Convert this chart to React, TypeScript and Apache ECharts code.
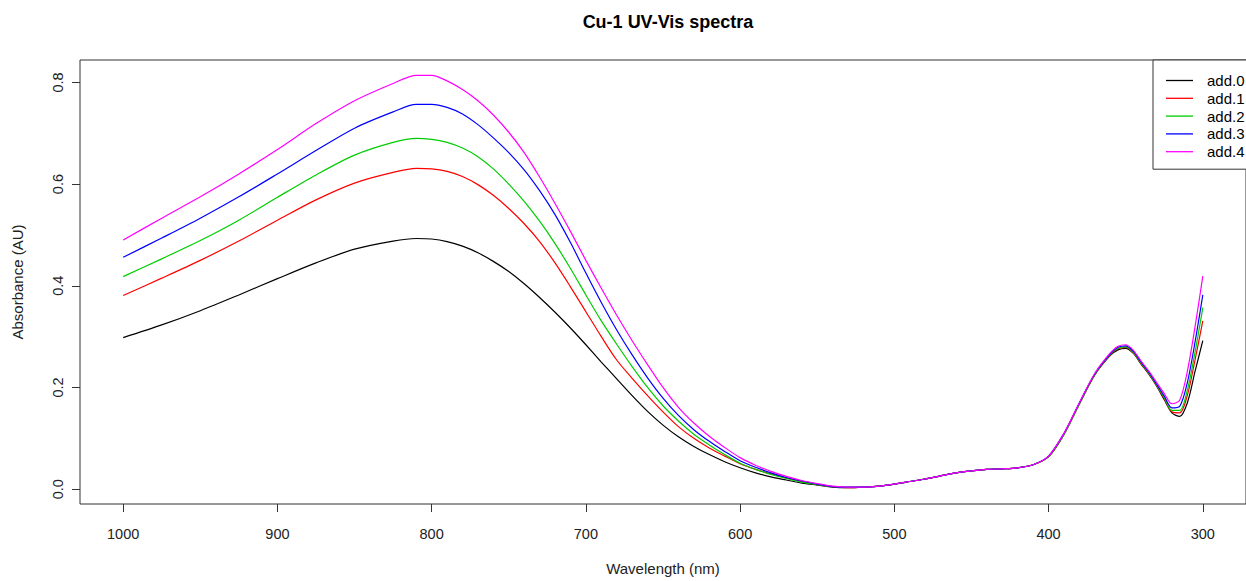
import React, { useEffect, useRef } from "react";
import * as echarts from "echarts";

const wavelengths = [
  1000, 975, 950, 925, 900, 875, 850, 825,
  810, 800, 790, 780, 770, 760, 750, 740, 730, 720, 710, 700,
  690, 680, 670, 660, 650, 640, 630, 620, 610, 600, 590, 580, 570, 560, 550, 540, 530,
  520, 510, 500, 490, 480, 470, 460, 450, 440, 430, 420, 410, 400, 390, 380, 370, 360,
  355, 350, 345, 340, 335, 330, 325, 320, 315, 310, 305, 300,
];

const add0 = [
  0.298, 0.323, 0.351, 0.382, 0.414, 0.445, 0.472, 0.488,
  0.493, 0.492, 0.487, 0.478, 0.465, 0.448, 0.428, 0.404, 0.377, 0.348, 0.317, 0.284,
  0.250, 0.217, 0.184, 0.153, 0.126, 0.103, 0.084, 0.068, 0.054, 0.042, 0.032, 0.024, 0.018, 0.012, 0.008, 0.004, 0.003,
  0.004, 0.006, 0.010, 0.015, 0.020, 0.026, 0.032, 0.036, 0.039, 0.040, 0.042, 0.048, 0.064, 0.108, 0.168, 0.225, 0.263,
  0.274, 0.277, 0.267, 0.246, 0.226, 0.203, 0.176, 0.150, 0.143, 0.170, 0.232, 0.292,
];

const add1 = [
  0.381, 0.415, 0.450, 0.488, 0.529, 0.569, 0.602, 0.623,
  0.631, 0.630, 0.625, 0.615, 0.599, 0.578, 0.552, 0.522, 0.487, 0.445, 0.398, 0.349,
  0.300, 0.254, 0.218, 0.184, 0.152, 0.123, 0.100, 0.081, 0.065, 0.050, 0.039, 0.030, 0.022, 0.015, 0.009, 0.005, 0.003,
  0.004, 0.006, 0.010, 0.015, 0.020, 0.026, 0.032, 0.036, 0.039, 0.040, 0.042, 0.048, 0.064, 0.108, 0.168, 0.225, 0.264,
  0.276, 0.279, 0.268, 0.247, 0.227, 0.204, 0.178, 0.152, 0.150, 0.185, 0.255, 0.331,
];

const add2 = [
  0.418, 0.453, 0.489, 0.529, 0.574, 0.618, 0.657, 0.682,
  0.690, 0.688, 0.682, 0.671, 0.654, 0.630, 0.600, 0.566, 0.527, 0.483, 0.434, 0.382,
  0.331, 0.285, 0.241, 0.200, 0.164, 0.134, 0.108, 0.087, 0.068, 0.051, 0.039, 0.029, 0.021, 0.014, 0.009, 0.005, 0.004,
  0.004, 0.006, 0.010, 0.015, 0.020, 0.026, 0.032, 0.036, 0.039, 0.040, 0.042, 0.048, 0.064, 0.108, 0.168, 0.226, 0.265,
  0.277, 0.280, 0.269, 0.248, 0.228, 0.205, 0.180, 0.155, 0.155, 0.195, 0.270, 0.357,
];

const add3 = [
  0.456, 0.494, 0.533, 0.575, 0.620, 0.666, 0.710, 0.742,
  0.757, 0.757, 0.751, 0.738, 0.717, 0.691, 0.662, 0.628, 0.587, 0.540, 0.485, 0.425,
  0.367, 0.313, 0.264, 0.219, 0.179, 0.145, 0.117, 0.094, 0.074, 0.056, 0.043, 0.032, 0.023, 0.016, 0.010, 0.005, 0.004,
  0.004, 0.006, 0.010, 0.015, 0.020, 0.026, 0.032, 0.036, 0.039, 0.040, 0.042, 0.048, 0.065, 0.110, 0.170, 0.227, 0.266,
  0.279, 0.282, 0.271, 0.250, 0.230, 0.207, 0.183, 0.160, 0.163, 0.210, 0.290, 0.382,
];

const add4 = [
  0.490, 0.533, 0.575, 0.620, 0.668, 0.719, 0.764, 0.798,
  0.814, 0.814, 0.803, 0.786, 0.764, 0.736, 0.702, 0.662, 0.614, 0.562, 0.507, 0.450,
  0.395, 0.342, 0.292, 0.245, 0.200, 0.161, 0.130, 0.104, 0.082, 0.062, 0.047, 0.035, 0.025, 0.017, 0.011, 0.006, 0.004,
  0.004, 0.006, 0.010, 0.015, 0.020, 0.026, 0.032, 0.036, 0.039, 0.040, 0.042, 0.048, 0.065, 0.110, 0.170, 0.228, 0.268,
  0.281, 0.284, 0.273, 0.252, 0.232, 0.210, 0.188, 0.168, 0.175, 0.232, 0.320, 0.419,
];

const seriesNames = ["add.0", "add.1", "add.2", "add.3", "add.4"];
const seriesValues = [add0, add1, add2, add3, add4];
const seriesColors = ["#000000", "#FF0000", "#00CD00", "#0000FF", "#FF00FF"];

const xTicks = [1000, 900, 800, 700, 600, 500, 400, 300];
const yTicks = [0, 0.2, 0.4, 0.6, 0.8];

const FONT = "'Liberation Sans', Arial, sans-serif";
const AXIS_COLOR = "#333333";

export default function App() {
  const ref = useRef<HTMLDivElement>(null);

  useEffect(() => {
    if (!ref.current) return;
    const chart = echarts.init(ref.current, undefined, { renderer: "svg" });

    const series = seriesNames.map((name, i) => ({
      name,
      type: "line",
      data: wavelengths.map((w, j) => [w, seriesValues[i][j]]),
      smooth: 0.3,
      symbol: "none",
      showSymbol: false,
      lineStyle: { color: seriesColors[i], width: 1.2 },
      itemStyle: { color: seriesColors[i] },
      emphasis: { disabled: true },
    }));

    chart.setOption({
      animation: false,
      backgroundColor: "#ffffff",
      title: {
        text: "Cu-1 UV-Vis spectra",
        left: 663,
        textAlign: "center",
        top: 8,
        textStyle: { fontFamily: FONT, fontSize: 18, fontWeight: "bold", color: "#000" },
      },
      legend: {
        orient: "vertical",
        left: 1153,
        top: 60,
        padding: [13, 40, 10, 13],
        icon: "rect",
        itemWidth: 27,
        itemHeight: 1.3,
        itemGap: 2.8,
        borderColor: AXIS_COLOR,
        borderWidth: 1,
        backgroundColor: "#ffffff",
        textStyle: {
          fontFamily: FONT,
          fontSize: 15,
          color: "#000",
          lineHeight: 15,
          padding: [0, 0, 0, 9],
        },
        data: seriesNames.map((n) => ({ name: n })),
      },
      grid: {
        left: 80,
        top: 60,
        width: 1177,
        height: 448,
        show: true,
        borderColor: AXIS_COLOR,
        borderWidth: 1,
        backgroundColor: "transparent",
      },
      xAxis: {
        type: "value",
        inverse: true,
        min: 272,
        max: 1028,
        name: "Wavelength (nm)",
        nameLocation: "middle",
        nameGap: 57,
        nameTextStyle: { fontFamily: FONT, fontSize: 15, color: "#222" },
        axisLine: { show: false, onZero: false },
        splitLine: { show: false },
        axisTick: {
          show: true,
          length: 8,
          customValues: xTicks,
          lineStyle: { color: AXIS_COLOR },
        },
        axisLabel: {
          customValues: xTicks,
          margin: 22,
          fontFamily: FONT,
          fontSize: 14.5,
          color: "#222",
          formatter: (v: number) => String(v),
        },
      },
      yAxis: {
        type: "value",
        min: -0.0292,
        max: 0.8441,
        name: "Absorbance (AU)",
        nameLocation: "middle",
        nameRotate: 90,
        nameGap: 55,
        nameTextStyle: { fontFamily: FONT, fontSize: 15, color: "#222" },
        axisLine: { show: false, onZero: false },
        splitLine: { show: false },
        axisTick: {
          show: true,
          length: 8,
          customValues: yTicks,
          lineStyle: { color: AXIS_COLOR },
        },
        axisLabel: {
          customValues: yTicks,
          rotate: 90,
          margin: 15,
          fontFamily: FONT,
          fontSize: 14.5,
          color: "#222",
          formatter: (v: number) => v.toFixed(1),
        },
      },
      series,
    });

    return () => chart.dispose();
  }, []);

  return (
    <div
      ref={ref}
      style={{ position: "fixed", left: 0, top: 0, width: 1246, height: 581 }}
    />
  );
}
